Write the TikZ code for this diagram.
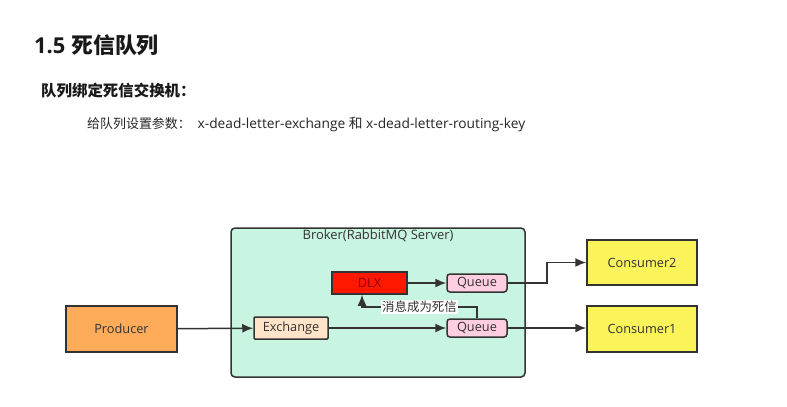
\documentclass[tikz,border=0pt]{standalone}
\usepackage{fontspec}
\setmainfont{Open Sans}
\newfontfamily\cjk{Noto Sans CJK SC}
\usetikzlibrary{arrows.meta, positioning}
\definecolor{brokermint}{RGB}{200,245,226}
\definecolor{produceorange}{RGB}{255,172,90}
\definecolor{exchangepeach}{RGB}{255,228,202}
\definecolor{dlxred}{RGB}{255,24,0}
\definecolor{queuepink}{RGB}{255,206,224}
\definecolor{consumeyellow}{RGB}{250,243,90}
\definecolor{linegray}{RGB}{51,51,51}
\definecolor{textgray}{RGB}{50,50,50}

\tikzset{
  box/.style={draw=linegray, line width=1.5bp, text=textgray, inner sep=0pt,
              font=\fontsize{12.8}{14}\selectfont},
  flow/.style={draw=linegray, line width=1.5bp, -{Latex[length=11bp,width=9bp]}},
}

\begin{document}
\begin{tikzpicture}[x=1bp, y=-1bp]
    \fill[white] (0,0) rectangle (787,406);
    \useasboundingbox (0,0) rectangle (787,406);

    % headings
    \node[anchor=west, inner sep=0pt, text=black!90, font=\bfseries\fontsize{22}{26}\selectfont] (title) at (34,45)
        {1.5 {\cjk\bfseries 死信队列}};
    \node[anchor=west, inner sep=0pt, text=black!90, font=\cjk\bfseries\fontsize{15.5}{18}\selectfont] (subtitle) at (41,91)
        {队列绑定死信交换机：};
    \node[anchor=west, inner sep=0pt, text=black!85, font=\fontsize{13.8}{16}\selectfont] (params) at (87,124)
        {{\cjk\fontsize{13}{16}\selectfont 给队列设置参数：}\hspace{0.5em}x-dead-letter-exchange {\cjk 和} x-dead-letter-routing-key};

    % broker
    \node[box, fill=brokermint, rounded corners=4bp, minimum width=294bp, minimum height=149bp] (broker) at (378,302.5) {};
    \node[below=2bp of broker.north, inner sep=0pt, text=textgray, font=\fontsize{13}{15}\selectfont] (brokerlabel) {Broker(RabbitMQ Server)};

    \node[box, fill=produceorange, minimum width=111bp, minimum height=46bp] (producer) at (121.5,329) {Producer};
    \node[box, fill=exchangepeach, rounded corners=1bp, minimum width=74bp, minimum height=22bp] (exchange) at (291,328) {Exchange};
    \node[box, fill=dlxred, text=red!55!black, minimum width=75bp, minimum height=22bp] (dlx) at (369.5,283) {DLX};
    \node[box, fill=queuepink, rounded corners=3bp, minimum width=60bp, minimum height=18bp] (queue2) at (477,283) {Queue};
    \node[box, fill=queuepink, rounded corners=3bp, minimum width=60bp, minimum height=18bp] (queue1) at (477,328) {Queue};
    \node[box, fill=consumeyellow, minimum width=110bp, minimum height=45bp] (consumer2) at (642,262.5) {Consumer2};
    \node[box, fill=consumeyellow, minimum width=110bp, minimum height=46bp] (consumer1) at (642,329) {Consumer1};

    \coordinate (deadturn) at (362,307);
    \coordinate (upturn) at (547,283);

    \draw[flow] (producer) -- (exchange);
    \draw[flow] (exchange) -- (queue1);
    \draw[flow] (dlx) -- (queue2);
    \draw[flow] (queue1.east) -- (consumer1.west |- queue1.east);
    \draw[flow] (queue2.east) -- (upturn) |- (consumer2.west);
    \draw[flow] (queue1.north) |- node[pos=0.75, fill=white, inner sep=1bp, text=textgray, font=\cjk\fontsize{12.5}{14}\selectfont] (deadlabel) {消息成为死信}
        (deadturn) -- (deadturn |- dlx.south);
\end{tikzpicture}
\end{document}
